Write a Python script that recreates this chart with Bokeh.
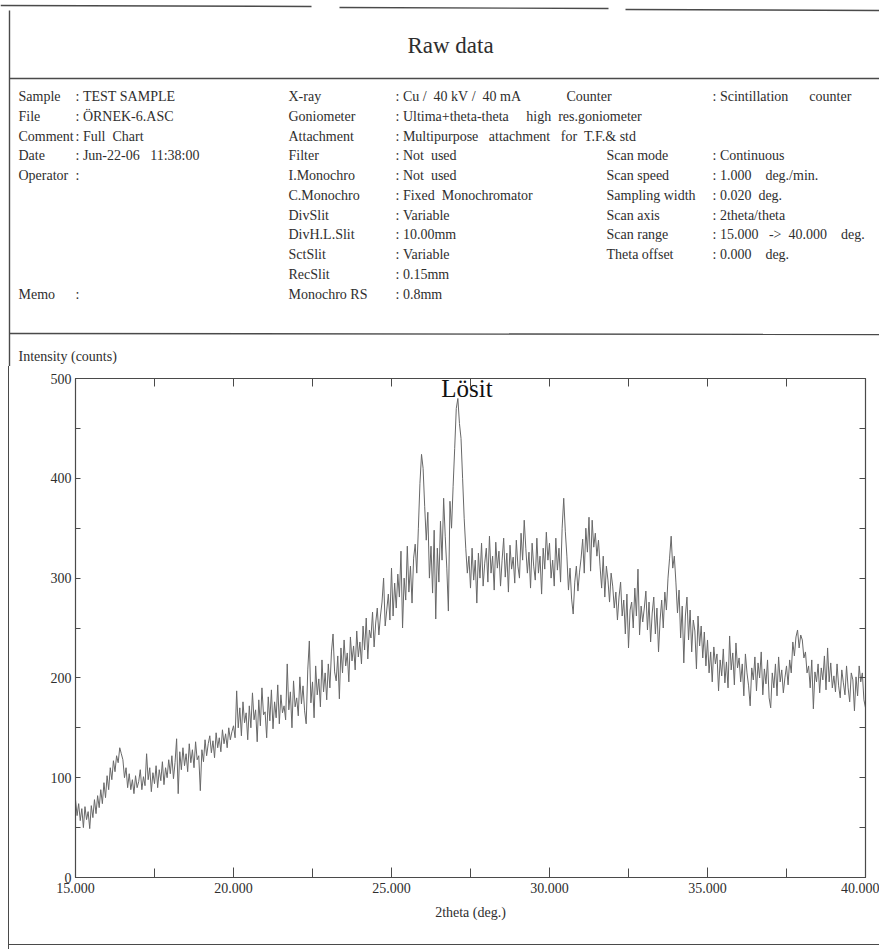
from bokeh.plotting import figure
from bokeh.models import (Range1d, LinearAxis, FixedTicker, Label,
                          NumeralTickFormatter, ColumnDataSource)
from bokeh.core.properties import value
from bokeh.embed import file_html
from bokeh.resources import INLINE

# ---------------- data ----------------
scan_start = 15.0
scan_step = 0.05

counts_15_20 = [
    78, 62, 74, 57, 69, 50, 71, 58, 66, 49, 72, 60, 78, 64, 82, 70, 88, 74, 95, 80,
    102, 88, 110, 98, 117, 106, 122, 115, 130, 124, 118, 100, 110, 90, 104, 88, 98, 84, 102, 90,
    96, 108, 88, 101, 92, 124, 98, 110, 86, 105, 94, 112, 90, 108, 97, 116, 93, 110, 100, 118,
    104, 122, 99, 115, 139, 84, 126, 108, 130, 112, 124, 106, 134, 115, 128, 110, 136, 118, 122, 87,
    128, 116, 138, 122, 134, 142, 125, 137, 120, 145, 130, 140, 126, 148, 134, 144, 130, 150, 138, 146,
]
counts_20_25 = [
    152, 140, 187, 150, 170, 142, 176, 155, 165, 138, 172, 150, 185, 158, 168, 136, 178, 152, 190, 163,
    166, 140, 181, 157, 188, 149, 176, 160, 193, 154, 183, 165, 172, 158, 214, 168, 186, 150, 197, 171,
    180, 162, 201, 174, 192, 167, 154, 208, 237, 175, 196, 160, 212, 183, 199, 171, 218, 186, 205, 178,
    214, 190, 226, 244, 206, 197, 222, 179, 230, 205, 238, 212, 225, 196, 241, 217, 232, 208, 247, 221,
    236, 214, 252, 228, 260, 219, 248, 240, 266, 231, 255, 270, 243, 262, 276, 300, 252, 268, 284, 258,
]
counts_25_30 = [
    310, 262, 295, 270, 304, 281, 327, 250, 300, 278, 332, 286, 312, 275, 320, 334, 305, 350, 395, 424,
    410, 372, 338, 366, 300, 332, 285, 348, 259, 330, 296, 357, 318, 380, 342, 310, 267, 377, 350, 392,
    430, 470, 480, 455, 440, 400, 360, 330, 305, 322, 290, 330, 298, 318, 275, 325, 300, 335, 292, 315,
    330, 296, 342, 305, 322, 288, 336, 310, 327, 292, 318, 340, 301, 325, 286, 333, 309, 321, 295, 338,
    312, 300, 345, 318, 358, 330, 305, 326, 290, 335, 312, 298, 340, 305, 322, 284, 330, 309, 346, 318,
]
counts_30_35 = [
    335, 300, 318, 292, 340, 308, 330, 296, 350, 380, 347, 322, 288, 310, 279, 264, 296, 312, 287, 306,
    320, 339, 305, 350, 326, 361, 307, 358, 331, 345, 322, 338, 312, 290, 322, 281, 312, 298, 276, 305,
    292, 270, 286, 258, 281, 296, 262, 278, 244, 284, 230, 268, 276, 250, 290, 262, 309, 243, 272, 256,
    270, 287, 248, 276, 236, 265, 281, 244, 270, 226, 258, 278, 250, 286, 268, 300, 320, 342, 310, 322,
    296, 265, 288, 240, 272, 215, 262, 281, 238, 268, 226, 258, 247, 209, 262, 232, 252, 220, 246, 212,
]
counts_35_40 = [
    238, 205, 226, 196, 231, 214, 224, 187, 218, 202, 229, 195, 216, 190, 242, 208, 225, 193, 235, 210,
    220, 196, 214, 182, 224, 205, 192, 172, 210, 198, 221, 187, 215, 200, 226, 183, 209, 194, 218, 180,
    170, 205, 190, 214, 182, 221, 196, 208, 185, 200, 212, 193, 218, 205, 236, 222, 241, 248, 230, 243,
    238, 220, 226, 205, 212, 190, 218, 169, 206, 196, 214, 185, 210, 198, 222, 188, 230, 196, 215, 190,
    202, 186, 214, 192, 180, 208, 195, 183, 212, 190, 176, 205, 198, 167, 201, 182, 212, 196, 205, 178,
    170,
]

x_major = [15, 20, 25, 30, 35, 40]
x_minor = [17.5, 22.5, 27.5, 32.5, 37.5]
y_major = [0, 100, 200, 300, 400, 500]
y_minor = [50, 150, 250, 350, 450]

peak_label = "Lösit"
peak_pos = (27.39, 490)

title_text = "Raw data"
y_title = "Intensity (counts)"
col1_labels = ["Sample", "File", "Comment", "Date", "Operator", "Memo"]
col1_rows = [0, 1, 2, 3, 4, 10]
col1_values = [": TEST SAMPLE", ": ÖRNEK-6.ASC", ": Full  Chart", ": Jun-22-06   11:38:00", ":", ":"]
col2_labels = ["X-ray", "Goniometer", "Attachment", "Filter", "I.Monochro", "C.Monochro",
               "DivSlit", "DivH.L.Slit", "SctSlit", "RecSlit", "Monochro RS"]
col2_values = [": Cu /  40 kV /  40 mA", ": Ultima+theta-theta     high  res.goniometer",
               ": Multipurpose   attachment   for  T.F.& std", ": Not  used", ": Not  used",
               ": Fixed  Monochromator", ": Variable", ": 10.00mm", ": Variable", ": 0.15mm", ": 0.8mm"]
col3_labels = ["Counter", "Scan mode", "Scan speed", "Sampling width", "Scan axis", "Scan range", "Theta offset"]
col3_rows = [0, 3, 4, 5, 6, 7, 8]
col3_values = [": Scintillation      counter", ": Continuous", ": 1.000    deg./min.", ": 0.020  deg.",
               ": 2theta/theta", ": 15.000   ->  40.000    deg.", ": 0.000    deg."]

# ---------------- style ----------------
FONT = "Liberation Serif"
INK = "#2e2e2e"
LINE = "#4a4a4a"
W = 879
HDR_H = 366
CH_H = 583


def nb(s):
    return s.replace(" ", "\u00a0")


# ---------------- header (page coordinates) ----------------
hdr = figure(width=W, height=HDR_H, x_range=Range1d(0, W), y_range=Range1d(HDR_H, 0),
             output_backend="svg", toolbar_location=None, min_border=0,
             x_axis_location=None, y_axis_location=None)
hdr.xgrid.visible = False
hdr.ygrid.visible = False
hdr.outline_line_color = None

row_y = [96 + 19.75 * i for i in range(11)]

hdr.segment(x0=[0, 339, 625], y0=[5, 7, 9], x1=[311, 608, W], y1=[6, 8, 10],
            line_color=LINE, line_width=1.4)
hdr.segment(x0=[9, 9, 9], y0=[10, 78, 333], x1=[9, W, W], y1=[HDR_H, 78, 334],
            line_color=LINE, line_width=1.4)

hdr.text(x=[450], y=[45], text=[title_text], text_font=value(FONT), text_font_size="23px",
         text_align="center", text_baseline="middle", text_color=INK)


def put(xs, ys, texts):
    hdr.text(x=xs, y=ys, text=[nb(t) for t in texts], text_font=value(FONT), text_font_size="14px",
             text_align="left", text_baseline="middle", text_color=INK)


put([18] * len(col1_labels), [row_y[r] for r in col1_rows], col1_labels)
put([75] * len(col1_values), [row_y[r] for r in col1_rows], col1_values)
put([288] * len(col2_labels), row_y, col2_labels)
put([395] * len(col2_values), row_y, col2_values)
put([566] + [606] * (len(col3_labels) - 1), [row_y[r] for r in col3_rows], col3_labels)
put([712] * len(col3_values), [row_y[r] for r in col3_rows], col3_values)
put([18], [356], [y_title])

# ---------------- chart ----------------
counts = counts_15_20 + counts_20_25 + counts_25_30 + counts_30_35 + counts_35_40
two_theta = [round(scan_start + scan_step * i, 3) for i in range(len(counts))]
src = ColumnDataSource(data=dict(x=two_theta, y=counts))

p = figure(width=W, height=CH_H, x_range=Range1d(15, 40), y_range=Range1d(0, 500),
           output_backend="svg", toolbar_location=None,
           min_border_left=75, min_border_right=14, min_border_top=12, min_border_bottom=72)
p.xgrid.visible = False
p.ygrid.visible = False
p.outline_line_color = LINE
p.outline_line_width = 1.2
p.background_fill_color = "white"
p.border_fill_color = None
# outer box edges (left and bottom) of the printed sheet, drawn behind the transparent border area
p.styles = {
    "background-color": "white",
    "background-image": "linear-gradient(#4a4a4a, #4a4a4a), linear-gradient(#4a4a4a, #4a4a4a)",
    "background-size": "1.4px 100%, 100% 1.4px",
    "background-position": "8.3px 0px, 8.3px 578.3px",
    "background-repeat": "no-repeat",
}

p.line("x", "y", source=src, line_color="#686868", line_width=1)

xa = p.xaxis[0]
xa.ticker = FixedTicker(ticks=x_major, minor_ticks=x_minor)
xa.formatter = NumeralTickFormatter(format="0.000")
xa.major_tick_in = 10
xa.major_tick_out = 0
xa.minor_tick_in = 9
xa.minor_tick_out = 0
xa.major_label_standoff = 5
xa.axis_label = "2theta (deg.)"
xa.axis_label_standoff = 9

ya = p.yaxis[0]
ya.ticker = FixedTicker(ticks=y_major, minor_ticks=y_minor)
ya.major_tick_in = 5
ya.major_tick_out = 0
ya.minor_tick_in = 5
ya.minor_tick_out = 0
ya.major_label_standoff = 4

top_ax = LinearAxis(ticker=FixedTicker(ticks=[], minor_ticks=[17.5, 20, 22.5, 25, 27.5, 30, 32.5, 35, 37.5]),
                    minor_tick_in=8, minor_tick_out=0, major_tick_in=0, major_tick_out=0)
right_ax = LinearAxis(ticker=FixedTicker(ticks=[], minor_ticks=[50, 100, 150, 200, 250, 300, 350, 400, 450]),
                      minor_tick_in=6, minor_tick_out=0, major_tick_in=0, major_tick_out=0)
p.add_layout(top_ax, "above")
p.add_layout(right_ax, "right")

for ax in [xa, ya, top_ax, right_ax]:
    ax.axis_line_color = LINE
    ax.major_tick_line_color = LINE
    ax.minor_tick_line_color = LINE
    ax.major_label_text_font = FONT
    ax.major_label_text_font_size = "14px"
    ax.major_label_text_color = INK
    ax.axis_label_text_font = FONT
    ax.axis_label_text_font_size = "14px"
    ax.axis_label_text_font_style = "normal"
    ax.axis_label_text_color = INK

p.add_layout(Label(x=peak_pos[0], y=peak_pos[1], text=peak_label, text_font=FONT,
                   text_font_size="25px", text_color="#111111",
                   text_align="center", text_baseline="alphabetic"))

open("out.html", "w").write(file_html([hdr, p], INLINE))
